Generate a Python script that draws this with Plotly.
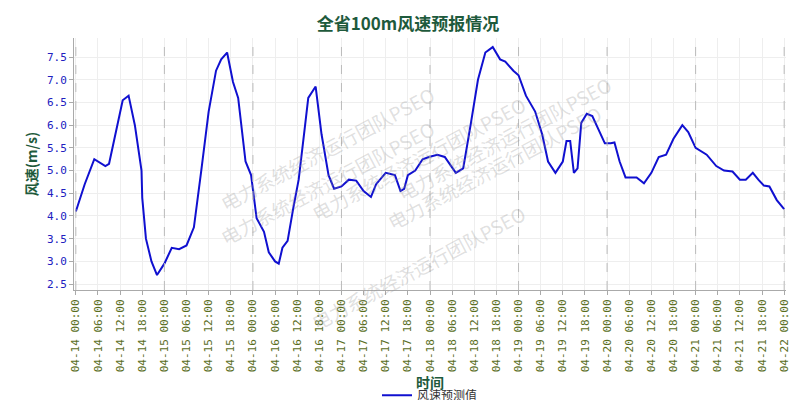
import plotly.graph_objects as go
import pandas as pd

hours = [0,2.4,5,8,9,11,12.7,14.3,16,17.8,18,19,20.5,22,24,26,28,30,32,34,36,38,39.4,41,42.6,44,46,47.5,49,51,52.3,54,55,56,57.4,59,60.4,62,63,65,66.6,68.5,70,72,74,76,78,80,81.4,84,86.5,88,89,90,92,94,95.7,98,100,103,105,107,109,111,113,115,116.4,118.6,120,122,124.5,126.4,128,130,132,133,134,135,136,137,138.5,140,142,143.4,145,146,147.4,149,152,154,156,158,160,162,164.4,166,168,171,173.6,175.7,178,180,181.6,183.5,185,186.5,188,190,192]
speed = [4.1,4.7,5.25,5.1,5.15,5.9,6.55,6.65,6.0,5.0,4.4,3.5,3.0,2.7,2.95,3.3,3.27,3.35,3.75,5.0,6.3,7.2,7.45,7.6,6.95,6.6,5.2,4.9,3.95,3.65,3.2,3.0,2.95,3.3,3.45,4.2,4.8,5.9,6.6,6.85,5.8,4.9,4.6,4.65,4.8,4.78,4.55,4.42,4.7,4.95,4.9,4.55,4.6,4.9,5.0,5.25,5.3,5.35,5.3,4.95,5.05,6.0,7.0,7.6,7.72,7.45,7.4,7.2,7.1,6.65,6.3,5.8,5.2,4.95,5.2,5.65,5.65,4.95,5.05,6.05,6.25,6.2,5.85,5.6,5.6,5.62,5.2,4.85,4.85,4.72,4.95,5.3,5.35,5.7,6.0,5.85,5.5,5.35,5.1,5.0,4.98,4.8,4.8,4.95,4.8,4.67,4.65,4.35,4.15]
start = "2024-04-14 00:00"
series_name = "风速预测值"
title = "全省100m风速预报情况"
watermark = "电力系统经济运行团队PSEO"

t0 = pd.Timestamp(start)
times = [t0 + pd.Timedelta(hours=h) for h in hours]
ticks = [t0 + pd.Timedelta(hours=6*i) for i in range(33)]
days = [t0 + pd.Timedelta(days=i) for i in range(9)]

fig = go.Figure(go.Scatter(x=times, y=speed, mode="lines", name=series_name,
                           line=dict(color="#1010d0", width=2)))
for d in days:
    fig.add_vline(x=d, line=dict(color="#bbbbbb", width=1, dash="dash"))

green = "#1e5a3c"
fig.update_layout(
    width=800, height=400, paper_bgcolor="white", plot_bgcolor="white",
    margin=dict(l=66, r=22, t=30, b=118, autoexpand=False),
    title=dict(text="<b>"+title+"</b>", x=0.5, y=0.975, yanchor="top",
               font=dict(family="Noto Sans CJK SC", size=17, color=green)),
    font=dict(family="Noto Sans CJK SC"),
    showlegend=True,
    legend=dict(orientation="h", x=0.5, xanchor="center", y=-0.36, yanchor="top",
                font=dict(size=12, color="#333")),
)
fig.update_xaxes(range=[t0 - pd.Timedelta(hours=0.5), t0 + pd.Timedelta(hours=192.5)],
                 tickvals=ticks, ticktext=[t.strftime("%m-%d %H:%M") for t in ticks],
                 tickangle=-90, tickfont=dict(family="DejaVu Sans Mono", size=11, color="#5a6e1e"),
                 showgrid=True, gridcolor="#eeeeee", showline=True, linecolor="#aaaaaa",
                 ticks="outside", tickcolor="#aaaaaa", ticklen=4, automargin=False,
                 title=dict(text="<b>时间</b>", font=dict(size=14, color=green), standoff=2))
fig.update_yaxes(range=[2.37, 7.92], dtick=0.5, tickformat=".1f",
                 tickfont=dict(family="DejaVu Sans Mono", size=11, color="#2020c0"),
                 showgrid=True, gridcolor="#eeeeee", zeroline=False, automargin=False,
                 showline=True, linecolor="#aaaaaa", ticks="outside", tickcolor="#aaaaaa", ticklen=4,
                 title=dict(text="<b>风速(m/s)</b>", font=dict(size=14, color=green), standoff=6))
for (px, py) in [(205, 70), (610, 60), (205, 245), (600, 230), (410, 150), (410, 330)]:
    fig.add_annotation(text=watermark, xref="paper", yref="paper",
                       x=(px - 66) / 712, y=(282 - py) / 252, showarrow=False,
                       textangle=-28, font=dict(size=19, color="rgba(150,150,150,0.3)",
                                                family="Noto Sans CJK SC"))
fig.write_html("out.html")
